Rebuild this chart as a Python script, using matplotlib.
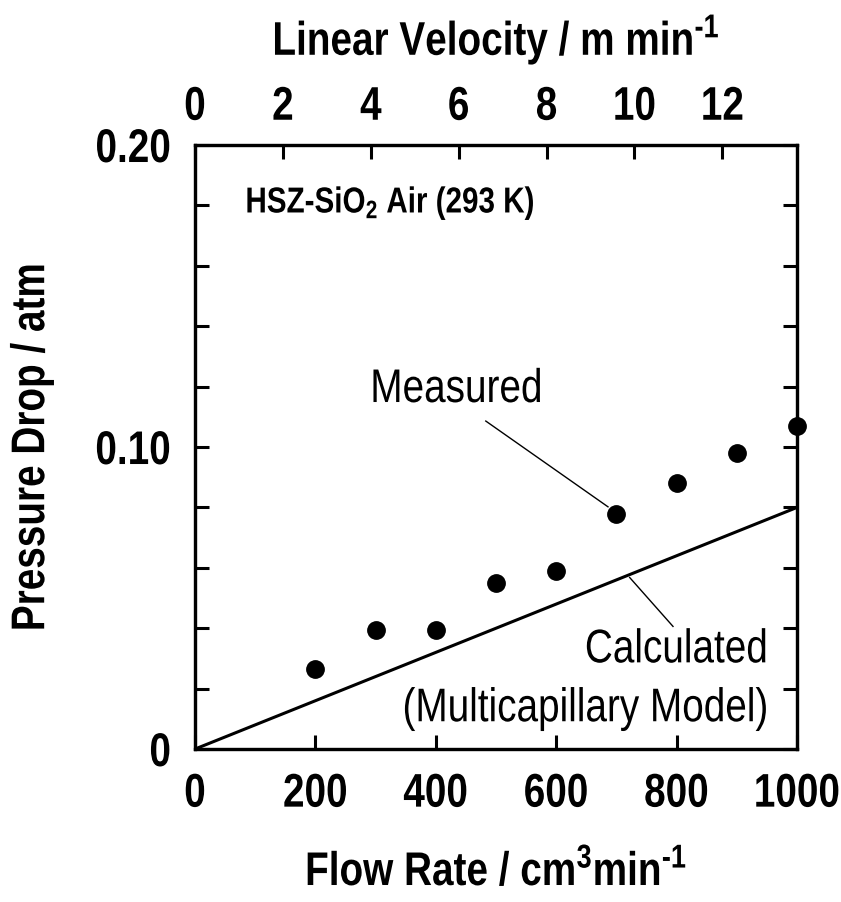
import matplotlib
matplotlib.use('Agg')
import matplotlib.pyplot as plt
from matplotlib.ticker import FixedLocator, FuncFormatter
from matplotlib.patheffects import AbstractPathEffect
from matplotlib.transforms import Affine2D

# Data
flow_rate = [200, 300, 400, 500, 600, 700, 800, 900, 1000]
pressure_measured = [0.0264, 0.0393, 0.0393, 0.0551, 0.0591, 0.0779, 0.0881, 0.0980, 0.1070]
calc_flow = [0, 1000]
calc_pressure = [0.0, 0.080]
velocity_max = 13.7  # linear velocity at 1000 cm3/min
velocity_ticks = [0, 2, 4, 6, 8, 10, 12]
flow_ticks = [0, 200, 400, 600, 800, 1000]
pressure_ticks = [i * 0.02 for i in range(11)]


class Narrow(AbstractPathEffect):
    """ Squeeze text horizontally, a stand-in for Arial Narrow. """

    def __init__(self, factor=0.82, anchor='center'):
        super().__init__()
        self.factor = factor
        self.anchor = anchor

    def draw_path(self, renderer, gc, tpath, affine, rgbFace=None):
        ext = tpath.get_extents()
        if self.anchor == 'left':
            cx = ext.x0
        elif self.anchor == 'right':
            cx = ext.x1
        else:
            cx = (ext.x0 + ext.x1) / 2
        t = Affine2D().translate(-cx, 0).scale(self.factor, 1).translate(cx, 0)
        renderer.draw_path(gc, tpath, t + affine, rgbFace)


plt.rcParams['font.family'] = ['Liberation Sans', 'DejaVu Sans']
plt.rcParams['mathtext.fontset'] = 'custom'
plt.rcParams['mathtext.rm'] = 'Liberation Sans'
plt.rcParams['mathtext.bf'] = 'Liberation Sans:bold'
plt.rcParams['mathtext.it'] = 'Liberation Sans:italic'

fig = plt.figure(figsize=(8.41, 9.03), dpi=100)
ax = fig.add_axes([0.2319, 0.1694, 0.9477 - 0.2319, 0.8383 - 0.1694])

# Calculated line and measured points
ax.plot(calc_flow, calc_pressure, color='black', lw=2.2, solid_capstyle='butt')
ax.plot(flow_rate, pressure_measured, 'o', color='black', ms=12.5, clip_on=False)

ax.set_xlim(0, 1000)
ax.set_ylim(0, 0.20)

for s in ax.spines.values():
    s.set_linewidth(2.3)

ax.xaxis.set_major_locator(FixedLocator(flow_ticks))
ax.yaxis.set_major_locator(FixedLocator(pressure_ticks))


def ylab(v, pos):
    if abs(v) < 1e-9:
        return '0'
    if abs(v - 0.10) < 1e-9:
        return '0.10'
    if abs(v - 0.20) < 1e-9:
        return '0.20'
    return ''


ax.yaxis.set_major_formatter(FuncFormatter(ylab))
ax.tick_params(axis='both', direction='in', length=10, width=2.2, labelsize=34, pad=17)
ax.tick_params(axis='y', right=True, labelright=False)
for lab in ax.get_xticklabels():
    lab.set_fontweight('bold')
    lab.set_path_effects([Narrow(0.82, 'center')])
for lab in ax.get_yticklabels():
    lab.set_fontweight('bold')
    lab.set_path_effects([Narrow(0.82, 'right')])

ax.set_xlabel(r'Flow Rate / cm$^\mathbf{3}$min$^\mathbf{‐1}$', fontsize=34, fontweight='bold', labelpad=24,
              path_effects=[Narrow(0.82, 'center')])
ax.set_ylabel('Pressure Drop / atm', fontsize=34, fontweight='bold', labelpad=18,
              path_effects=[Narrow(0.82, 'center')])

# Top axis: linear velocity
ax2 = ax.twiny()
ax2.set_xlim(0, velocity_max)
ax2.xaxis.set_major_locator(FixedLocator(velocity_ticks))
ax2.tick_params(axis='x', direction='in', length=10, width=2.2, labelsize=34, pad=11)
for lab in ax2.get_xticklabels():
    lab.set_fontweight('bold')
    lab.set_path_effects([Narrow(0.82, 'center')])
ax2.set_xlabel(r'Linear Velocity / m min$^\mathbf{‐1}$', fontsize=34, fontweight='bold', labelpad=22,
               path_effects=[Narrow(0.82, 'center')])
for s in ax2.spines.values():
    s.set_linewidth(2.3)

# Annotations
ax.text(83, 0.1776, r'HSZ-SiO$_\mathbf{2}$ Air (293 K)', fontsize=26, fontweight='bold', ha='left',
        va='baseline', path_effects=[Narrow(0.82, 'left')])
ax.text(290, 0.1149, 'Measured', fontsize=34, ha='left', va='baseline',
        path_effects=[Narrow(0.82, 'left')])
ax.text(952, 0.0287, 'Calculated', fontsize=34, ha='right', va='baseline',
        path_effects=[Narrow(0.82, 'right')])
ax.text(952, 0.0092, '(Multicapillary Model)', fontsize=34, ha='right', va='baseline',
        path_effects=[Narrow(0.82, 'right')])
ax.plot([483, 686], [0.1086, 0.0802], color='black', lw=1)
ax.plot([794, 722], [0.0406, 0.0568], color='black', lw=1)

fig.savefig('out.png', dpi=100)
